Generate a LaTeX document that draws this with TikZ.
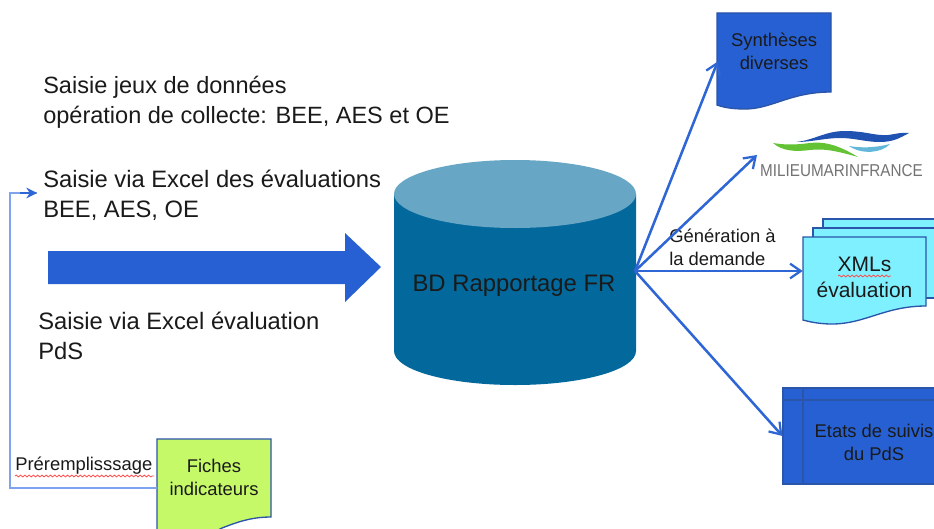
\documentclass[tikz,border=0pt]{standalone}
\usepackage{fontspec}
\usepackage{graphicx}
\setmainfont{Liberation Sans}
\usetikzlibrary{arrows.meta,calc,decorations.pathmorphing}
\definecolor{linkblue}{HTML}{2F66D6}
\definecolor{paleblue}{HTML}{7FA3EE}
\definecolor{docblue}{HTML}{2660D2}
\definecolor{docedge}{HTML}{2A55A8}
\definecolor{bodyblue}{HTML}{03699C}
\definecolor{topblue}{HTML}{67A6C5}
\definecolor{sheet}{HTML}{7FF0FF}
\definecolor{lime}{HTML}{C6F968}
\definecolor{inktext}{HTML}{1A1A1A}
\tikzset{
  x=0.75pt,y=-0.75pt,
  bigtext/.style={inner sep=0pt,anchor=west,align=left,text=inktext,font=\fontsize{17.8pt}{22.5pt}\selectfont},
  smalltext/.style={inner sep=0pt,align=center,text=inktext,font=\fontsize{13.8pt}{17.2pt}\selectfont},
  docarea/.style={inner sep=0pt,minimum width=#1,align=center,text=inktext,font=\fontsize{13.8pt}{17.2pt}\selectfont},
  sheetpath/.style={draw=docedge,line width=1pt},
  link/.style={draw=linkblue,line width=1.9pt,-{Straight Barb[length=8pt,width=11pt,line width=1.7pt]}},
  spell/.style={draw=red!70,line width=0.6pt,decorate,decoration={snake,amplitude=0.7pt,segment length=3.2pt}},
}
\begin{document}
\begin{tikzpicture}
\useasboundingbox (0,0) rectangle (934,528);
\clip (0,0) rectangle (934,528);
\fill[white] (0,0) rectangle (934,528);

% left texts
\node[bigtext,font=\fontsize{17.65pt}{22.5pt}\selectfont] (t1) at (43,102.5) {Saisie jeux de données\\opération de collecte: BEE, AES et OE};
\node[bigtext] (t2) at (43,195) {Saisie via Excel des évaluations\\BEE, AES, OE};
\node[bigtext] (t3) at (38,336) {Saisie via Excel évaluation\\PdS};

% big arrow
\fill[docblue] (48,251) -- (345,251) -- (345,233) -- (381,267) -- (345,302) -- (345,284) -- (48,284) -- cycle;

% database
\fill[bodyblue] (394,194) -- (394,351) .. controls (394,370) and (448,385) .. (515,385) .. controls (582,385) and (636,370) .. (636,351) -- (636,194) -- cycle;
\fill[topblue] (515,194) ellipse [x radius=121,y radius=34];
\node[inner sep=0pt,text=inktext,font=\fontsize{17.9pt}{22pt}\selectfont] (dbtext) at (514,286) {BD Rapportage FR};
\coordinate (hub) at (635,271);

% Synthèses
\path[fill=docblue,sheetpath] (717,13) -- (831,13) -- (831,92) .. controls (790,92) and (772,109) .. (745,109) .. controls (735,109) and (725,108) .. (717,105) -- cycle;
\node[docarea={114*0.75pt},minimum height={79*0.75pt}] (synth) at (774,51.5) {Synthèses\\diverses};

% logo
\fill[docblue!85!black] (796,142) .. controls (815,140) and (825,131) .. (845,131) .. controls (865,131) and (875,136) .. (888,135) .. controls (896,134) and (902,132) .. (909,133) .. controls (900,138) and (893,142) .. (880,142) .. controls (865,142) and (855,138) .. (840,138) .. controls (825,138) and (812,142) .. (796,142) -- cycle;
\fill[green!55!black!50!lime] (773,143) .. controls (785,145) and (795,145) .. (810,143) .. controls (825,141) and (840,146) .. (858,157) .. controls (840,152) and (825,148) .. (810,150) .. controls (795,152) and (782,151) .. (773,143) -- cycle;
\fill[cyan!60!teal!70] (849,146) .. controls (860,148) and (875,148) .. (890,144) .. controls (882,153) and (862,155) .. (849,146) -- cycle;
\node[inner sep=0pt,text=black!55] (logo) at (841.5,171) {\resizebox{122pt}{9pt}{MILIEUMARINFRANCE}};
\coordinate (logoin) at (757,155);

% XML stack
\path[fill=sheet,sheetpath] (823,219) -- (950,219) -- (950,290) -- (823,290) -- cycle;
\path[fill=sheet,sheetpath] (813,228) -- (940,228) -- (940,298) -- (813,298) -- cycle;
\path[fill=sheet,sheetpath] (803,237) -- (926,237) -- (926,306) .. controls (885,306) and (865,324) .. (832,324) .. controls (820,324) and (810,322) .. (803,320) -- cycle;
\node[docarea={123*0.75pt},minimum height={69*0.75pt},font=\fontsize{15.75pt}{19.5pt}\selectfont] (xml) at (864.5,277) {XMLs\\évaluation};
\draw[spell] (838,276) -- (891,276);

% États
\node[draw=docedge,fill=docblue,line width=0.8pt,minimum width={157*0.75pt},minimum height={96*0.75pt},inner sep=0pt] (etats) at (861.5,436) {};
\draw[docedge,line width=0.8pt] (803,388) -- (803,484);
\draw[docedge,line width=0.8pt] (783,400) -- (945,400);
\node[smalltext] (etatstext) at (874,442) {Etats de suivis\\du PdS};

% Fiches
\path[fill=lime,sheetpath] (157,439) -- (271,439) -- (271,517) .. controls (250,517) and (235,523) .. (222,528) .. controls (200,540) and (175,540) .. (157,535) -- cycle;
\node[docarea={114*0.75pt},minimum height={78*0.75pt}] (fiches) at (214,477) {Fiches\\indicateurs};
\coordinate (entry) at (37,193);

% labels
\node[smalltext,align=left,anchor=west] (gen) at (669,247.5) {Génération à\\la demande};
\node[smalltext,anchor=west] (pre) at (15,466) {Préremplisssage};
\draw[spell] (15,476) -- (154,476);

% connectors
\draw[link] (hub) -- ($(synth.west)+(1,10)$);
\draw[link] (hub) -- (logoin);
\draw[link] (hub) -- ($(xml.west)+(0,-6)$);
\draw[link] (hub) -- (etats.west);
\draw[draw=paleblue,line width=1.3pt] ($(fiches.west)+(0,11)$) -- ++(-147,0) |- (entry);
\draw[draw=linkblue,line width=1.3pt,-{Stealth[length=8pt,width=8pt]}] (20,193) -- (entry);
\end{tikzpicture}
\end{document}
